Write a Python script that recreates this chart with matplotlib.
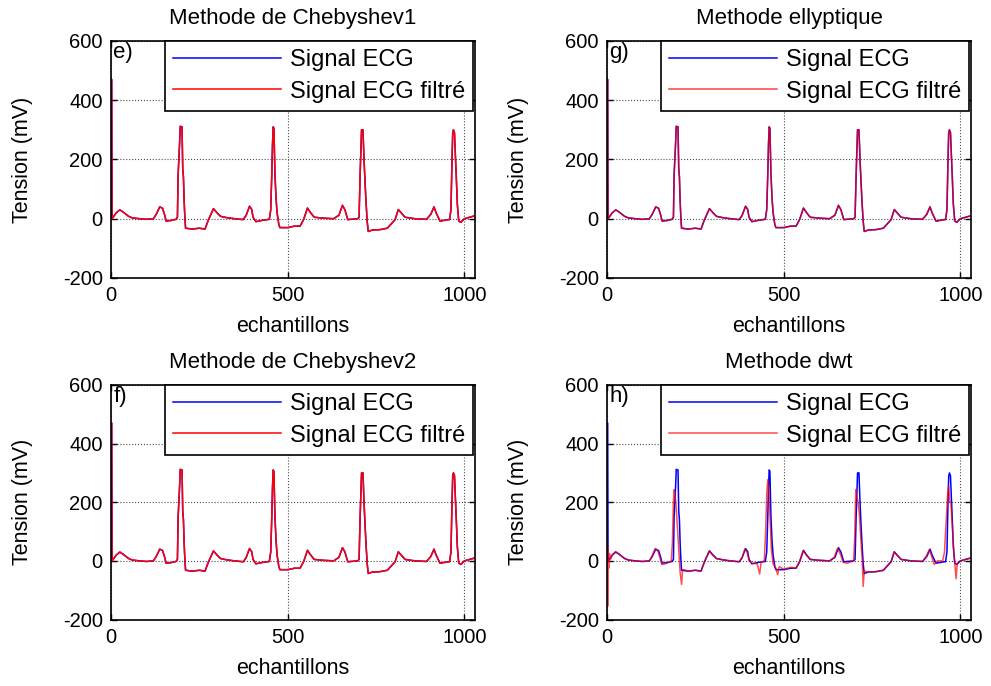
import matplotlib
matplotlib.use("Agg")
import matplotlib.pyplot as plt

plt.rcParams['font.family'] = ['Liberation Sans', 'DejaVu Sans']
plt.rcParams['axes.unicode_minus'] = False

# Signal ECG (sample index, amplitude in mV)
ech_ecg = [0, 2, 3, 6, 15, 25, 35, 50, 60, 80, 100, 120, 128, 138, 146, 152, 156, 170,
           184, 188, 190, 194, 196, 201, 203, 205, 207, 209, 211, 230, 250, 266, 276, 290,
           300, 310, 330, 350, 374, 382, 392, 398, 402, 410, 430, 448, 452, 455, 457, 459,
           461, 464, 467, 470, 475, 478, 500, 520, 535, 545, 556, 565, 575, 600, 630, 645,
           655, 662, 670, 698, 702, 705, 709, 713, 716, 719, 722, 725, 728, 740, 760, 782,
           804, 813, 832, 860, 893, 905, 914, 920, 931, 955, 958, 962, 965, 967, 969, 972,
           975, 977, 980, 984, 990, 1000, 1015, 1030]
val_ecg = [470, 470, 0, 5, 20, 30, 22, 8, 3, 0, -2, 0, 15, 40, 35, 12, -8, -6,
           -2, 5, 150, 250, 312, 310, 170, 140, 60, 5, -32, -35, -32, -35, -3, 34,
           20, 8, 3, 0, -3, 10, 42, 32, 5, -10, -5, -2, 30, 150, 250, 310,
           305, 150, 70, 20, -20, -30, -30, -25, -25, -3, 36, 20, 5, 2, 0, 12,
           45, 30, -3, 0, 5, 150, 300, 300, 200, 120, 50, -10, -43, -38, -37, -32,
           -3, 31, 5, 0, -2, 15, 40, 20, -8, -3, -3, 30, 200, 290, 300, 290,
           200, 145, 50, -8, -12, 0, 5, 10]

# Chebyshev1 / elliptique / Chebyshev2 : le signal filtre se superpose au signal
val_cheb1 = val_ecg
val_ellip = val_ecg
val_cheb2 = val_ecg

# Methode dwt : signal filtre
ech_dwt = [0, 1, 2, 3, 5, 7, 10, 15, 24, 35, 50, 60, 80, 100, 120, 127, 136, 144, 150,
           155, 165, 175, 182, 185, 188, 190, 192, 194, 196, 199, 203, 207, 211, 214, 218,
           230, 250, 266, 276, 289, 300, 310, 330, 350, 374, 382, 390, 397, 402, 410, 425,
           432, 436, 445, 449, 452, 455, 458, 461, 465, 470, 478, 483, 487, 500, 520, 535,
           545, 555, 565, 575, 600, 630, 643, 652, 660, 668, 680, 698, 701, 704, 707, 710,
           714, 718, 722, 725, 728, 740, 760, 782, 804, 812, 832, 860, 893, 903, 912, 918,
           926, 935, 950, 955, 960, 964, 967, 970, 973, 977, 981, 985, 988, 991, 1000,
           1015, 1030]
val_dwt = [60, 60, -155, 45, -25, 25, 5, 20, 32, 22, 8, 3, 0, -2, 0, 15, 42, 33, 10,
           -12, -10, -5, 0, 60, 200, 243, 230, 210, 180, 120, 40, -40, -80, -30, -30,
           -35, -32, -35, -3, 34, 18, 8, 3, 0, -3, 10, 40, 28, 0, -8, -10,
           -45, -5, 0, 100, 230, 277, 240, 160, 40, -10, -25, -47, -20, -28, -22, -25,
           -3, 35, 18, 5, 2, 0, 12, 42, 25, -5, -8, 0, 80, 243, 215, 205,
           160, 80, 10, -87, -35, -38, -37, -32, -3, 30, 5, 0, -2, 15, 38, 18,
           -12, 0, 0, 30, 140, 230, 254, 200, 200, 120, 40, -20, -61, -10, 0,
           5, 10]

titres = ['Methode de Chebyshev1', 'Methode ellyptique', 'Methode de Chebyshev2', 'Methode dwt']
lettres = ['e)', 'g)', 'f)', 'h)']
filtres = [(ech_ecg, val_cheb1), (ech_ecg, val_ellip), (ech_ecg, val_cheb2), (ech_dwt, val_dwt)]
alphas = [1.0, 0.75, 1.0, 0.7]

positions = [[0.1120, 0.5948, 0.3673, 0.3455],
             [0.6125, 0.5948, 0.3673, 0.3455],
             [0.1120, 0.0969, 0.3673, 0.3420],
             [0.6125, 0.0969, 0.3673, 0.3420]]

fig = plt.figure(figsize=(9.91, 6.86), dpi=100)

for k in range(4):
    ax = fig.add_axes(positions[k])
    ax.plot(ech_ecg, val_ecg, color='b', lw=1.1, label='Signal ECG')
    ax.plot(filtres[k][0], filtres[k][1], color='r', lw=1.1, alpha=alphas[k],
            label='Signal ECG filtr\u00e9')
    ax.set_xlim(0, 1030)
    ax.set_ylim(-200, 600)
    ax.set_xticks([0, 500, 1000])
    ax.set_yticks([-200, 0, 200, 400, 600])
    ax.grid(True, linestyle=':', color='0.3', linewidth=0.8)
    ax.tick_params(direction='in', top=True, right=True, length=4, width=1,
                   labelsize=14.5, pad=6)
    for s in ax.spines.values():
        s.set_linewidth(1.2)
    ax.set_title(titres[k], fontsize=16, pad=12)
    ax.set_xlabel('echantillons', fontsize=15.5, labelpad=8)
    ax.set_ylabel('Tension (mV)', fontsize=15.5)
    ax.yaxis.set_label_coords(-0.215, 0.5)
    ax.text(0.006, 0.995, lettres[k], transform=ax.transAxes, ha='left', va='top',
            fontsize=16)
    leg = ax.legend(loc='upper right', bbox_to_anchor=(0.995, 1.0), fontsize=17,
                    handlelength=4.6, handletextpad=0.35, borderpad=0.35,
                    labelspacing=0.4, fancybox=False, framealpha=1,
                    edgecolor='black', borderaxespad=0)
    leg.get_frame().set_linewidth(1.2)

fig.savefig('out.png', dpi=100)
